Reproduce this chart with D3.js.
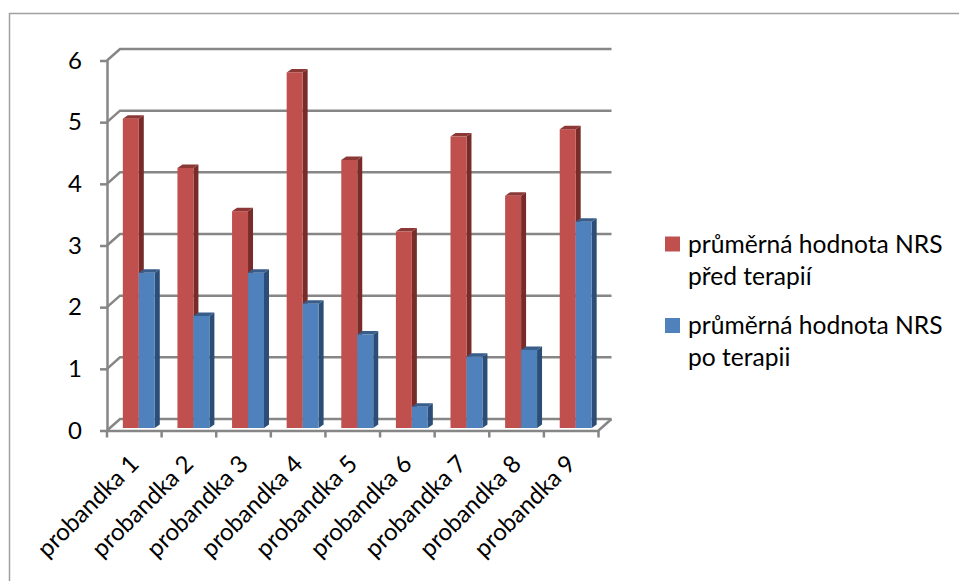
<!DOCTYPE html>
<html>
<head>
<meta charset="utf-8">
<script src="https://cdn.jsdelivr.net/npm/d3@7"></script>
<style>
body { margin: 0; background: #fff; }
text { font-family: Lato, "Open Sans", sans-serif; fill: #000; }
</style>
</head>
<body>
<script>
const categories = ['probandka 1', 'probandka 2', 'probandka 3', 'probandka 4', 'probandka 5', 'probandka 6', 'probandka 7', 'probandka 8', 'probandka 9'];
const pred_values = [5, 4.2, 3.5, 5.75, 4.33, 3.17, 4.71, 3.75, 4.83];
const po_values = [2.5, 1.8, 2.5, 2, 1.5, 0.33, 1.14, 1.25, 3.33];
const y_ticks = [0, 1, 2, 3, 4, 5, 6];
const series_names = [
    ['průměrná hodnota NRS', 'před terapií'],
    ['průměrná hodnota NRS', 'po terapii']
];
const front_colors = ['#c0504d', '#4f81bd'];
const side_colors = ['#772c2a', '#2c4d75'];
const top_colors = ['#8c3836', '#385d8a'];

const width = 959;
const height = 581;
const grid_color = '#868686';
// depth of the fake 3d wall and of each bar
const wall_dx = 13, wall_dy = -11.5;
const bar_dx = 5, bar_dy = -3.5;
const lift = 3.5;
const bar_shift = 4.5;

const svg = d3.select('body')
    .append('svg')
    .attr('width', width)
    .attr('height', height)
    .style('display', 'block');

// frame of the chart, only top and left show up in the crop
svg.append('path')
    .attr('d', 'M959.5,13.5H9.5V581')
    .attr('fill', 'none')
    .attr('stroke', '#a0a0a0')
    .attr('stroke-width', 1.5);

const x_scale = d3.scaleBand()
    .domain(categories)
    .range([107, 598.5])
    .paddingInner(0.415)
    .paddingOuter(0.2075);

const y_scale = d3.scaleLinear()
    .domain([0, 6])
    .range([430.5, 60.5]);

// walls and gridlines
const walls = svg.append('g')
    .attr('fill', 'none')
    .attr('stroke', grid_color)
    .attr('stroke-width', 2.5);

walls.selectAll('path')
    .data(y_ticks)
    .enter()
    .append('path')
    .attr('d', function (d) {
        const y = y_scale(d);
        return 'M107,' + y + 'L' + (107 + wall_dx) + ',' + (y + wall_dy) + 'H' + (598.5 + wall_dx);
    });

walls.append('path')
    .attr('d', 'M598.5,' + y_scale(0) + 'L' + (598.5 + wall_dx) + ',' + (y_scale(0) + wall_dy));

// bars, series by series
const bar_width = x_scale.bandwidth() / 2;
const base_y = y_scale(0) - 2.5;

function bar_top(v) {
    return y_scale(v) - lift;
}

const rows = [];
categories.forEach(function (c, i) {
    rows.push({ cat: c, s: 0, value: pred_values[i] });
    rows.push({ cat: c, s: 1, value: po_values[i] });
});

const bars = svg.append('g')
    .selectAll('g')
    .data(rows)
    .enter()
    .append('g')
    .attr('transform', function (d) {
        return 'translate(' + (x_scale(d.cat) + bar_shift + d.s * bar_width) + ',0)';
    });

bars.append('path')
    .attr('fill', function (d) { return side_colors[d.s]; })
    .attr('d', function (d) {
        const t = bar_top(d.value);
        return 'M' + bar_width + ',' + t + 'l' + bar_dx + ',' + bar_dy + 'V' + (base_y + bar_dy) + 'l' + (-bar_dx) + ',' + (-bar_dy) + 'Z';
    });

bars.append('path')
    .attr('fill', function (d) { return top_colors[d.s]; })
    .attr('d', function (d) {
        const t = bar_top(d.value);
        return 'M0,' + t + 'l' + bar_dx + ',' + bar_dy + 'h' + bar_width + 'l' + (-bar_dx) + ',' + (-bar_dy) + 'Z';
    });

bars.append('rect')
    .attr('fill', function (d) { return front_colors[d.s]; })
    .attr('x', 0)
    .attr('width', bar_width)
    .attr('y', function (d) { return bar_top(d.value); })
    .attr('height', function (d) { return base_y - bar_top(d.value); });

// axes
const y_axis = d3.axisLeft(y_scale)
    .tickValues(y_ticks)
    .tickFormat(d3.format('d'))
    .tickSize(7)
    .tickPadding(18)
    .tickSizeOuter(0);

const y_g = svg.append('g')
    .attr('transform', 'translate(107,0)')
    .call(y_axis);

const x_axis = d3.axisBottom(x_scale)
    .tickSize(0)
    .tickSizeOuter(0)
    .tickFormat('');

const x_g = svg.append('g')
    .attr('transform', 'translate(0,' + y_scale(0) + ')')
    .call(x_axis);

// ticks sit between the categories
const x_step = x_scale.step();
x_g.selectAll('.sep')
    .data(d3.range(categories.length + 1))
    .enter()
    .append('line')
    .attr('class', 'sep')
    .attr('x1', function (d) { return 107 + d * x_step; })
    .attr('x2', function (d) { return 107 + d * x_step; })
    .attr('y1', 0)
    .attr('y2', 7)
    .attr('stroke', grid_color)
    .attr('stroke-width', 2.5);

svg.selectAll('.domain, .tick line')
    .attr('stroke', grid_color)
    .attr('stroke-width', 2.5);

y_g.selectAll('text')
    .style('font-size', '24px')
    .attr('font-family', null);

x_g.selectAll('.label')
    .data(categories)
    .enter()
    .append('text')
    .attr('class', 'label')
    .attr('text-anchor', 'end')
    .style('font-size', '24px')
    .attr('transform', function (d) {
        return 'translate(' + (x_scale(d) + x_scale.bandwidth() / 2 + 6) + ',35) rotate(-45)';
    })
    .text(function (d) { return d; });

// legend
const legend = svg.append('g')
    .selectAll('g')
    .data(series_names)
    .enter()
    .append('g')
    .attr('transform', function (d, i) {
        return 'translate(665,' + (236.5 + i * 81.5) + ')';
    });

legend.append('rect')
    .attr('width', 15)
    .attr('height', 15)
    .attr('fill', function (d, i) { return front_colors[i]; });

legend.selectAll('text')
    .data(function (d) { return d; })
    .enter()
    .append('text')
    .attr('x', 23)
    .attr('y', function (d, i) { return 16 + i * 32; })
    .style('font-size', '24.6px')
    .text(function (d) { return d; });
</script>
</body>
</html>
